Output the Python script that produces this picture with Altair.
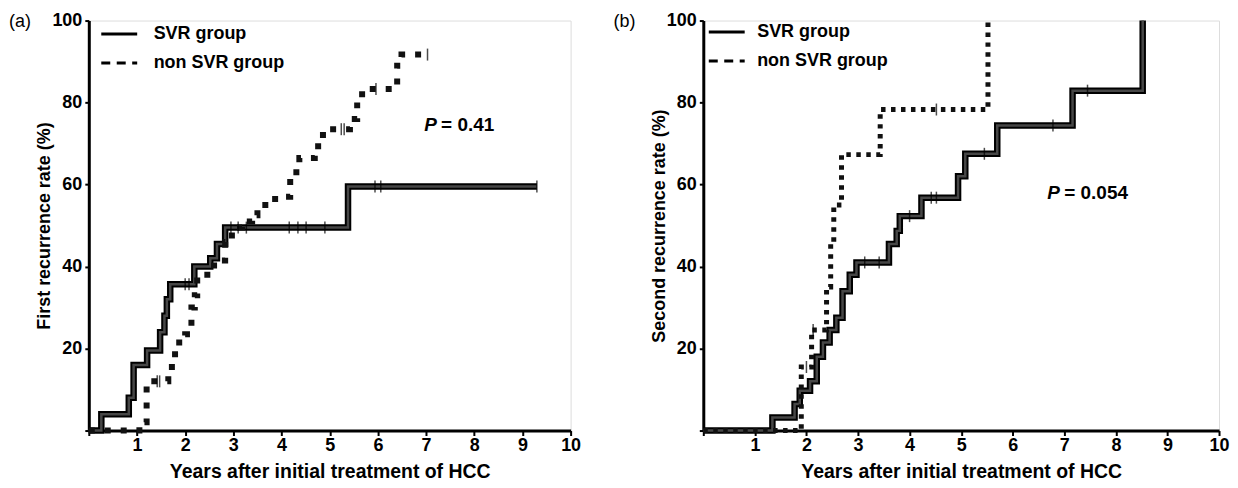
import altair as alt
import pandas as pd

FONT = "Liberation Sans"

# ---------------- Panel (a): first recurrence ----------------
svr_a_years = [0, 0.26, 0.83, 0.93, 1.21, 1.48, 1.57, 1.62, 1.69, 2.19, 2.52, 2.66, 2.83, 5.38, 9.3]
svr_a_rate = [0, 4, 8, 16, 19.5, 24, 28, 32, 35.7, 40, 42, 45.5, 49.5, 59.5, 59.5]
svr_a_cens_years = [2.0, 2.08, 2.95, 3.1, 3.27, 4.16, 4.34, 4.51, 4.9, 5.94, 6.06, 9.3]
svr_a_cens_rate = [35.7, 35.7, 49.5, 49.5, 49.5, 49.5, 49.5, 49.5, 49.5, 59.5, 59.5, 59.5]

nsvr_a_years = [0, 1.05, 1.2, 1.65, 1.79, 2.0, 2.13, 2.2, 2.25, 2.6, 2.83, 2.97, 3.18, 3.39, 3.5,
                3.74, 4.09, 4.18, 4.37, 4.69, 4.76, 4.86, 5.42, 5.57, 5.76, 6.4, 6.49, 7.03]
nsvr_a_rate = [0, 2, 12, 15.5, 21.5, 23.5, 30, 33, 38, 41.5, 46, 49.5, 51, 52.5, 55,
               56.5, 57, 63, 66.5, 67.5, 70.5, 73.5, 76, 82, 83.3, 89, 91.7, 91.7]
nsvr_a_cens_years = [1.42, 1.47, 5.24, 5.3, 5.96, 7.03]
nsvr_a_cens_rate = [12, 12, 73.5, 73.5, 83.3, 91.7]

# ---------------- Panel (b): second recurrence ----------------
svr_b_years = [0, 1.34, 1.77, 1.87, 2.07, 2.2, 2.32, 2.45, 2.58, 2.7, 2.84, 2.97, 3.6, 3.75, 3.81,
               4.23, 4.94, 5.08, 5.7, 7.16, 8.52]
svr_b_rate = [0, 3.2, 6.5, 9.7, 12, 18, 21.5, 24.5, 27.5, 34, 38, 41, 45.5, 48.7, 52.3,
              56.8, 62, 67.5, 74.4, 82.9, 100]
svr_b_cens_years = [3.13, 3.41, 4.0, 4.42, 4.52, 5.45, 6.78, 7.45]
svr_b_cens_rate = [41, 41, 52.3, 56.8, 56.8, 67.5, 74.4, 82.9]

nsvr_b_years = [0, 1.9, 2.1, 2.39, 2.47, 2.53, 2.68, 3.43, 5.52]
nsvr_b_rate = [0, 15.5, 24.5, 35, 46, 55, 67.3, 78.3, 100]
nsvr_b_cens_years = [2.0, 2.13, 4.52]
nsvr_b_cens_rate = [15.5, 24.5, 78.3]

groups = ["SVR group", "non SVR group"]
x_ticks = list(range(0, 11))
y_ticks = [0, 20, 40, 60, 80, 100]
x_title = "Years after initial treatment of HCC"


def make_panel(tag, ytitle, width, height,
               svr_t, svr_p, svr_ct, svr_cp,
               nsvr_t, nsvr_p, nsvr_ct, nsvr_cp,
               p_label, p_pos, dot_dash, dot_width,
               legend_x, legend_y, legend_sym, legend_off, legend_rowpad, tag_x):
    xs = alt.Scale(domain=[0, 10], nice=False, zero=False)
    ys = alt.Scale(domain=[0, 100], nice=False)
    x_axis = alt.Axis(values=x_ticks, labelExpr="datum.value == 0 ? '' : datum.label",
                      title=x_title, grid=False, domainColor="black", domainWidth=3,
                      tickColor="black", tickWidth=2, tickSize=5, labelFontSize=18,
                      titleFontSize=19.5, labelColor="black", titleColor="black",
                      labelPadding=1, titlePadding=8, labelFont=FONT, titleFont=FONT,
                      labelFontWeight="bold", titleFontWeight="bold", labelFlush=False)
    y_axis = alt.Axis(values=y_ticks, labelExpr="datum.value == 0 ? '' : datum.label",
                      title=ytitle, grid=False, domainColor="black", domainWidth=3,
                      tickColor="black", tickWidth=2, tickSize=4, labelFontSize=18,
                      titleFontSize=18, labelColor="black", titleColor="black",
                      labelPadding=3, labelFont=FONT, titleFont=FONT,
                      labelFontWeight="bold", titleFontWeight="bold",
                      titleAngle=270, titleX=-44,
                      titleY=height / 2, titleAlign="center", titleBaseline="middle")

    svr = pd.DataFrame({"years": svr_t, "rate": svr_p})
    nsvr = pd.DataFrame({"years": nsvr_t, "rate": nsvr_p})
    cens = pd.DataFrame({"years": svr_ct + nsvr_ct, "rate": svr_cp + nsvr_cp})
    leg = pd.DataFrame({"years": [svr_t[0], nsvr_t[0]], "rate": [svr_p[0], nsvr_p[0]],
                        "group": groups})

    X = alt.X("years:Q", scale=xs, axis=x_axis)
    Y = alt.Y("rate:Q", scale=ys, axis=y_axis)

    legend_layer = alt.Chart(leg).mark_line(color="black", strokeWidth=3).encode(
        x=X, y=Y,
        strokeDash=alt.StrokeDash(
            "group:N",
            scale=alt.Scale(domain=groups, range=[[1, 0], [9, 6.5]]),
            legend=alt.Legend(title=None, orient="none", legendX=legend_x, legendY=legend_y,
                              symbolType="stroke", symbolSize=legend_sym,
                              symbolStrokeWidth=3, labelFontSize=18, labelFont=FONT,
                              labelFontWeight="bold",
                              labelColor="black", labelOffset=legend_off, padding=0,
                              rowPadding=legend_rowpad, symbolStrokeColor="black"),
        ),
    )
    svr_outer = alt.Chart(svr).mark_line(color="black", strokeWidth=6.5,
                                         interpolate="step-after", strokeJoin="miter").encode(x=X, y=Y)
    svr_inner = alt.Chart(svr).mark_line(color="#474747", strokeWidth=2.5,
                                         interpolate="step-after", strokeJoin="miter").encode(x=X, y=Y)
    nsvr_line = alt.Chart(nsvr).mark_line(color="#111111", strokeWidth=dot_width,
                                          strokeDash=dot_dash, interpolate="step-after",
                                          strokeJoin="miter").encode(x=X, y=Y)
    cens_layer = alt.Chart(cens).mark_tick(orient="vertical", size=12, thickness=1.5,
                                           color="black").encode(x=X, y=Y)

    pdf = pd.DataFrame({"years": [p_pos[0]], "rate": [p_pos[1]],
                        "p": ["P"], "rest": [p_label]})
    p_italic = alt.Chart(pdf).mark_text(align="left", baseline="middle", fontSize=19,
                                        font=FONT, fontStyle="italic", fontWeight="bold",
                                        color="black").encode(x=X, y=Y, text="p:N")
    p_rest = alt.Chart(pdf).mark_text(align="left", baseline="middle", fontSize=19,
                                      font=FONT, fontWeight="bold", dx=17,
                                      color="black").encode(x=X, y=Y, text="rest:N")

    tdf = pd.DataFrame({"tag": [tag]})
    tag_layer = alt.Chart(tdf).mark_text(align="left", baseline="middle", fontSize=18,
                                         font=FONT, color="black").encode(
        x=alt.value(tag_x), y=alt.value(1), text="tag:N")

    return alt.layer(legend_layer, svr_outer, svr_inner, nsvr_line, cens_layer,
                     p_italic, p_rest, tag_layer).properties(width=width, height=height)


panel_a = make_panel("(a)", "First recurrence rate (%)", 483, 411,
                     svr_a_years, svr_a_rate, svr_a_cens_years, svr_a_cens_rate,
                     nsvr_a_years, nsvr_a_rate, nsvr_a_cens_years, nsvr_a_cens_rate,
                     "= 0.41", (6.96, 74.6), [6, 10], 6,
                     11, -6, 1296, 15, 0, -80)

panel_b = make_panel("(b)", "Second  recurrence rate (%)", 517, 411,
                     svr_b_years, svr_b_rate, svr_b_cens_years, svr_b_cens_rate,
                     nsvr_b_years, nsvr_b_rate, nsvr_b_cens_years, nsvr_b_cens_rate,
                     "= 0.054", (6.67, 58), [4.5, 5.5], 5,
                     4, -8, 1296, 11, 0, -90)

chart = alt.hconcat(panel_a, panel_b, spacing=31).resolve_scale(
    strokeDash="independent").resolve_legend(strokeDash="independent").properties(
    padding={"left": 0, "top": -2, "right": 0, "bottom": 0}
).configure_view(stroke=None).configure(font=FONT)

chart.save("out.html", embed_options={"renderer": "svg", "actions": False})
